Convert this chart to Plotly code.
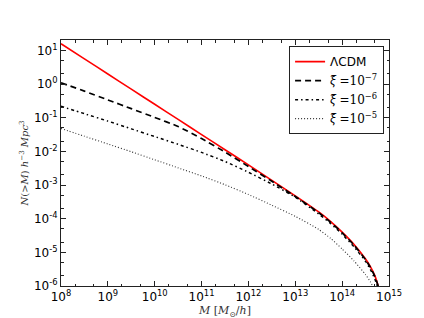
import plotly.graph_objects as go

# log10(M) sample points
logM_lcdm = [8, 8.5, 9, 9.5, 10, 10.5, 11, 11.5, 12, 12.5, 13, 13.5, 13.75, 14, 14.25, 14.5, 14.6, 14.7, 14.77]
logN_lcdm = [1.20, 0.75, 0.30, -0.15, -0.60, -1.05, -1.50, -1.95, -2.40, -2.86, -3.32, -3.80, -4.08, -4.40, -4.76, -5.20, -5.42, -5.70, -6.0]

logM_x7 = [8, 8.5, 9, 9.5, 10, 10.5, 11, 11.5, 12, 12.5, 13, 13.5, 13.75, 14, 14.25, 14.5, 14.6, 14.7, 14.77]
logN_x7 = [0.04, -0.21, -0.47, -0.73, -0.99, -1.26, -1.62, -2.02, -2.45, -2.89, -3.34, -3.82, -4.10, -4.42, -4.78, -5.22, -5.44, -5.72, -6.0]

logM_x6 = [8, 8.5, 9, 9.5, 10, 10.5, 11, 11.5, 12, 12.5, 13, 13.5, 13.75, 14, 14.25, 14.5, 14.6, 14.7, 14.75]
logN_x6 = [-0.66, -0.88, -1.10, -1.33, -1.56, -1.79, -2.03, -2.30, -2.62, -2.97, -3.36, -3.86, -4.14, -4.46, -4.83, -5.27, -5.50, -5.80, -6.0]

logM_x5 = [8, 8.5, 9, 9.5, 10, 10.5, 11, 11.5, 12, 12.5, 13, 13.5, 13.75, 14, 14.25, 14.5, 14.6, 14.66]
logN_x5 = [-1.32, -1.55, -1.78, -2.01, -2.25, -2.49, -2.73, -2.99, -3.28, -3.60, -3.93, -4.32, -4.58, -4.90, -5.25, -5.66, -5.87, -6.02]

x_exps = [8, 9, 10, 11, 12, 13, 14, 15]
y_exps = [-6, -5, -4, -3, -2, -1, 0, 1]

def p10(v):
    return [10 ** a for a in v]

XI = "<span style='font-family:Noto Sans;font-style:italic'>ξ̃</span>"

series = [
    ("<span style='font-family:DejaVu Sans'>ΛCDM</span>", logM_lcdm, logN_lcdm,
     dict(color="#ff0000", width=1.6, dash="solid")),
    (XI + " =10<sup>−7</sup>", logM_x7, logN_x7, dict(color="black", width=1.7, dash="6px,4px")),
    (XI + " =10<sup>−6</sup>", logM_x6, logN_x6, dict(color="black", width=1.5, dash="3px,3px,1.5px,3px")),
    (XI + " =10<sup>−5</sup>", logM_x5, logN_x5, dict(color="#333333", width=1.1, dash="1px,2px")),
]

fig = go.Figure()
for name, lx, ly, ln in series:
    fig.add_trace(go.Scatter(x=p10(lx), y=p10(ly), mode="lines", name=name,
                             line=dict(shape="spline", smoothing=0.5, **ln)))

axis_common = dict(
    type="log", showgrid=False, zeroline=False, showline=True, linecolor="#222222",
    linewidth=1, mirror="allticks", ticks="inside", ticklen=5, tickcolor="#222222",
    minor=dict(ticks="inside", ticklen=2.5, tickcolor="#222222", showgrid=False),
    tickfont=dict(family="DejaVu Sans", size=12, color="black"),
)

fig.update_xaxes(**axis_common, range=[8, 15],
                 tickvals=p10(x_exps), ticktext=[f"10<sup>{e}</sup>" for e in x_exps],
                 title=dict(text="<i>M</i> [<i>M</i><sub>⊙</sub>/<i>h</i>]",
                            font=dict(family="DejaVu Serif", size=11, color="#333333"),
                            standoff=2))
fig.update_yaxes(**axis_common, range=[-6, 1.31],
                 tickvals=p10(y_exps), ticktext=[f"10<sup>{e}</sup>" for e in y_exps],
                 title=dict(text="<i>N</i>(&gt;<i>M</i>) <i>h</i><sup>−3</sup> <i>Mpc</i><sup>3</sup>",
                            font=dict(family="DejaVu Serif", size=10, color="#333333"),
                            standoff=3))

fig.update_layout(
    width=424, height=318,
    margin=dict(l=53, r=43, t=32, b=32),
    paper_bgcolor="white", plot_bgcolor="white",
    font=dict(family="DejaVu Sans", size=11, color="black"),
    legend=dict(x=0.985, y=0.975, xanchor="right", yanchor="top",
                bordercolor="#222222", borderwidth=1, bgcolor="white",
                font=dict(family="DejaVu Serif", size=12, color="black"),
                tracegroupgap=3, itemwidth=30),
    showlegend=True,
)

fig.write_html("out.html")
